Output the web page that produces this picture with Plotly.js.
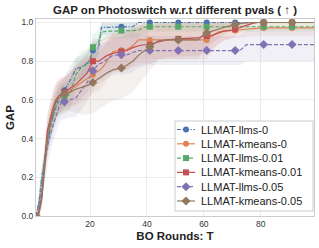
<!DOCTYPE html>
<html><head><meta charset="utf-8">
<script src="https://cdn.plot.ly/plotly-3.0.1.min.js"></script>
<style>html,body{margin:0;padding:0;background:#fff}#chart{width:319px;height:248px}</style>
</head><body><div id="chart"></div>
<script>
const rounds = [1,2,3,4,5,6,7,8,9,10, 11,13,15,17,19,20, 21,23,24,26,28, 31,33,35,37,39, 41,44,47, 51,55,58,60, 61,63,65,67,70, 71,73,75,77,79, 81,85, 91,95,99];

const seriesNames = ["LLMAT-llms-0","LLMAT-kmeans-0","LLMAT-llms-0.01","LLMAT-kmeans-0.01","LLMAT-llms-0.05","LLMAT-kmeans-0.05"];

const gapLlms0 = [0,.07,.2,.3,.38,.45,.52,.57,.61,.63, .65,.70,.76,.77,.79,.81, .855,.87,.975,.975,.975, .978,.978,.978,1,1, 1,1,1, 1,1,1,1, 1,1,1,1,1, 1,1,1,1,1, 1,1, 1,1,1];
const gapKmeans0 = [0,.02,.1,.28,.42,.5,.55,.59,.61,.62, .63,.65,.67,.69,.71,.72, .73,.75,.76,.80,.85, .856,.86,.88,.91,.91, .91,.91,.91, .91,.91,.91,.91, .91,.93,.95,.955,.958, .958,.96,.965,.968,.97, .972,.972, .972,.972,.972];
const gapLlms001 = [0,.06,.18,.3,.4,.46,.51,.56,.59,.60, .61,.63,.73,.77,.785,.80, .872,.90,.95,.955,.955, .958,.958,.958,.96,.975, .978,.978,.978, .978,.978,.978,.978, .978,.978,.978,.978,.978, .978,.978,.978,.978,.978, .978,.978, .978,.978,.978];
const gapKmeans001 = [0,.02,.1,.28,.44,.5,.56,.6,.62,.63, .64,.66,.68,.71,.74,.77, .80,.80,.81,.83,.84, .85,.855,.87,.88,.885, .885,.90,.91, .915,.92,.92,.93, .93,.935,.945,.955,.96, .965,.975,.985,.995,1, 1,1, 1,1,1];
const gapLlms005 = [0,.05,.15,.25,.36,.42,.47,.52,.56,.59, .59,.60,.61,.65,.69,.72, .75,.785,.79,.81,.83, .833,.833,.845,.855,.855, .855,.855,.855, .855,.855,.855,.855, .855,.855,.855,.855,.855, .855,.86,.886,.886,.886, .886,.886, .886,.886,.886];
const gapKmeans005 = [0,.01,.08,.25,.4,.48,.54,.59,.61,.62, .63,.64,.655,.665,.675,.68, .69,.71,.72,.74,.755, .765,.78,.80,.83,.855, .875,.905,.91, .91,.91,.91,.94, .946,.955,.965,.975,.985, .99,.995,.998,1,1, 1,1, 1,1,1];

const sdLlms0 = [0,.03,.05,.06,.07,.07,.07,.07,.07,.07, .07,.07,.06,.06,.06,.06, .06,.05,.04,.04,.04, .04,.04,.035,0,0, 0,0,0, 0,0,0,0, 0,0,0,0,0, 0,0,0,0,0, 0,0, 0,0,0];
const sdKmeans0 = [0,.02,.05,.08,.09,.09,.09,.09,.09,.09, .09,.09,.1,.1,.1,.1, .1,.1,.1,.1,.1, .1,.1,.1,.1,.1, .1,.1,.1, .1,.1,.1,.1, .1,.08,.06,.05,.04, .04,.04,.04,.04,.04, .04,.04, .04,.04,.04];
const sdLlms001 = [0,.03,.06,.07,.08,.08,.08,.08,.08,.08, .08,.08,.08,.08,.08,.08, .07,.06,.05,.04,.04, .04,.04,.04,.035,.03, .025,.025,.025, .025,.025,.025,.025, .025,.025,.025,.025,.025, .025,.025,.025,.025,.025, .025,.025, .025,.025,.025];
const sdKmeans001 = [0,.02,.05,.08,.09,.09,.09,.09,.09,.09, .08,.09,.1,.1,.1,.1, .1,.1,.1,.1,.1, .1,.1,.1,.1,.1, .1,.09,.09, .09,.09,.09,.09, .08,.07,.06,.05,.04, .035,.025,.015,.005,0, 0,0, 0,0,0];
const sdLlms005 = [0,.03,.06,.08,.09,.09,.09,.09,.09,.09, .09,.09,.1,.1,.1,.1, .1,.1,.1,.1,.1, .1,.1,.1,.09,.08, .075,.075,.075, .075,.075,.075,.075, .075,.075,.075,.075,.075, .075,.08,.085,.085,.085, .085,.085, .085,.085,.085];
const sdKmeans005 = [0,.01,.04,.07,.08,.08,.08,.08,.08,.08, .08,.1,.12,.14,.15,.15, .16,.16,.16,.16,.16, .16,.16,.16,.15,.14, .12,.1,.1, .1,.1,.1,.08, .08,.06,.05,.04,.02, .01,.01,.005,0,0, 0,0, 0,0,0];

const xTickVals = [20,40,60,80];
const yTickVals = [0,0.2,0.4,0.6,0.8,1.0];
const yTickText = ["0.0","0.2","0.4","0.6","0.8","1.0"];

const means = [gapLlms0,gapKmeans0,gapLlms001,gapKmeans001,gapLlms005,gapKmeans005];
const sds = [sdLlms0,sdKmeans0,sdLlms001,sdKmeans001,sdLlms005,sdKmeans005];
const colors = ['#4C72B0','#DD8452','#55A868','#C44E52','#8172B3','#937860'];
const fills = ['rgba(76,114,176,0.11)','rgba(221,132,82,0.11)','rgba(85,168,104,0.11)','rgba(196,78,82,0.11)','rgba(129,114,179,0.11)','rgba(147,120,96,0.11)'];
const symbols = ['circle','circle','square','square','diamond','diamond'];
const msize = [6,6,6,6,7,7];
const dashes = ['4px,1.5px,1.2px,1.5px','solid','4px,2px','solid','4px,2px','solid'];

const traces = [];
means.forEach((m,i)=>{
  const lo = m.map((v,k)=>Math.max(0,v-sds[i][k]));
  const hi = m.map((v,k)=>Math.min(1,v+sds[i][k]));
  traces.push({x:rounds,y:lo,mode:'lines',line:{width:0},hoverinfo:'skip',showlegend:false});
  traces.push({x:rounds,y:hi,mode:'lines',line:{width:0},fill:'tonexty',fillcolor:fills[i],hoverinfo:'skip',showlegend:false});
});
means.forEach((m,i)=>{
  traces.push({x:rounds,y:m,mode:'lines',name:seriesNames[i],line:{color:colors[i],width:1.2,dash:dashes[i]},showlegend:false});
});
means.forEach((m,i)=>{
  const mx=[],my=[];
  rounds.forEach((t,k)=>{ if((t-1)%10===0){mx.push(t);my.push(m[k]);} });
  traces.push({x:mx,y:my,mode:'markers',name:seriesNames[i],marker:{color:colors[i],symbol:symbols[i],size:msize[i]},showlegend:false});
});

// Legend drawn on an overlay axis measured in pixels from the plot area's top-left corner
const PW = 278, PH = 197;
const box = {x0:139,x1:277,y0:102,y1:192};
traces.push({x:[box.x0,box.x1,box.x1,box.x0,box.x0],y:[box.y0,box.y0,box.y1,box.y1,box.y0],xaxis:'x2',yaxis:'y2',mode:'lines',fill:'toself',fillcolor:'#ffffff',line:{color:'#cccccc',width:1},hoverinfo:'skip',showlegend:false});
const annotations = [];
seriesNames.forEach((nm,i)=>{
  const ry = 110.5 + i*14.3;
  traces.push({x:[141,159],y:[ry,ry],xaxis:'x2',yaxis:'y2',mode:'lines',line:{color:colors[i],width:1.2,dash:dashes[i]},hoverinfo:'skip',showlegend:false});
  traces.push({x:[150],y:[ry],xaxis:'x2',yaxis:'y2',mode:'markers',marker:{color:colors[i],symbol:symbols[i],size:msize[i]},hoverinfo:'skip',showlegend:false});
  annotations.push({x:163,y:ry,xref:'x2',yref:'y2',xanchor:'left',yanchor:'middle',showarrow:false,text:nm,font:{family:'Liberation Sans, Arial, sans-serif',size:11,color:'#222'}});
});

const F = 'Liberation Sans, Arial, sans-serif';
const layout = {
  width:319,height:248,
  margin:{l:36,r:5,t:19,b:32},
  paper_bgcolor:'#fff',plot_bgcolor:'#fff',
  font:{family:F,size:8.5,color:'#333'},
  showlegend:false,
  title:{text:'<b>GAP on Photoswitch w.r.t different pvals ( ↑ )</b>',font:{family:F,size:11.5,color:'#222'},x:0.5,xref:'paper',xanchor:'center',y:0.96,yanchor:'middle'},
  xaxis:{range:[1,98.7],tickvals:xTickVals,ticks:'',showgrid:true,gridcolor:'#ebebeb',zeroline:false,showline:true,mirror:true,linecolor:'#cccccc',linewidth:1,
    tickfont:{size:8.5,color:'#333'},title:{text:'<b>BO Rounds: T</b>',font:{family:F,size:11.5,color:'#222'},standoff:3},automargin:false},
  yaxis:{range:[0,1.018],tickvals:yTickVals,ticktext:yTickText,ticks:'',showgrid:true,gridcolor:'#ebebeb',zeroline:false,showline:true,mirror:true,linecolor:'#cccccc',linewidth:1,
    tickfont:{size:8.5,color:'#333'},title:{text:'<b>GAP</b>',font:{family:F,size:11.5,color:'#222'},standoff:4},automargin:false},
  xaxis2:{overlaying:'x',anchor:'y2',range:[0,PW],visible:false,showgrid:false,zeroline:false},
  yaxis2:{overlaying:'y',anchor:'x2',range:[PH,0],visible:false,showgrid:false,zeroline:false},
  annotations:annotations
};
Plotly.newPlot('chart',traces,layout,{displayModeBar:false,staticPlot:true});
</script></body></html>
